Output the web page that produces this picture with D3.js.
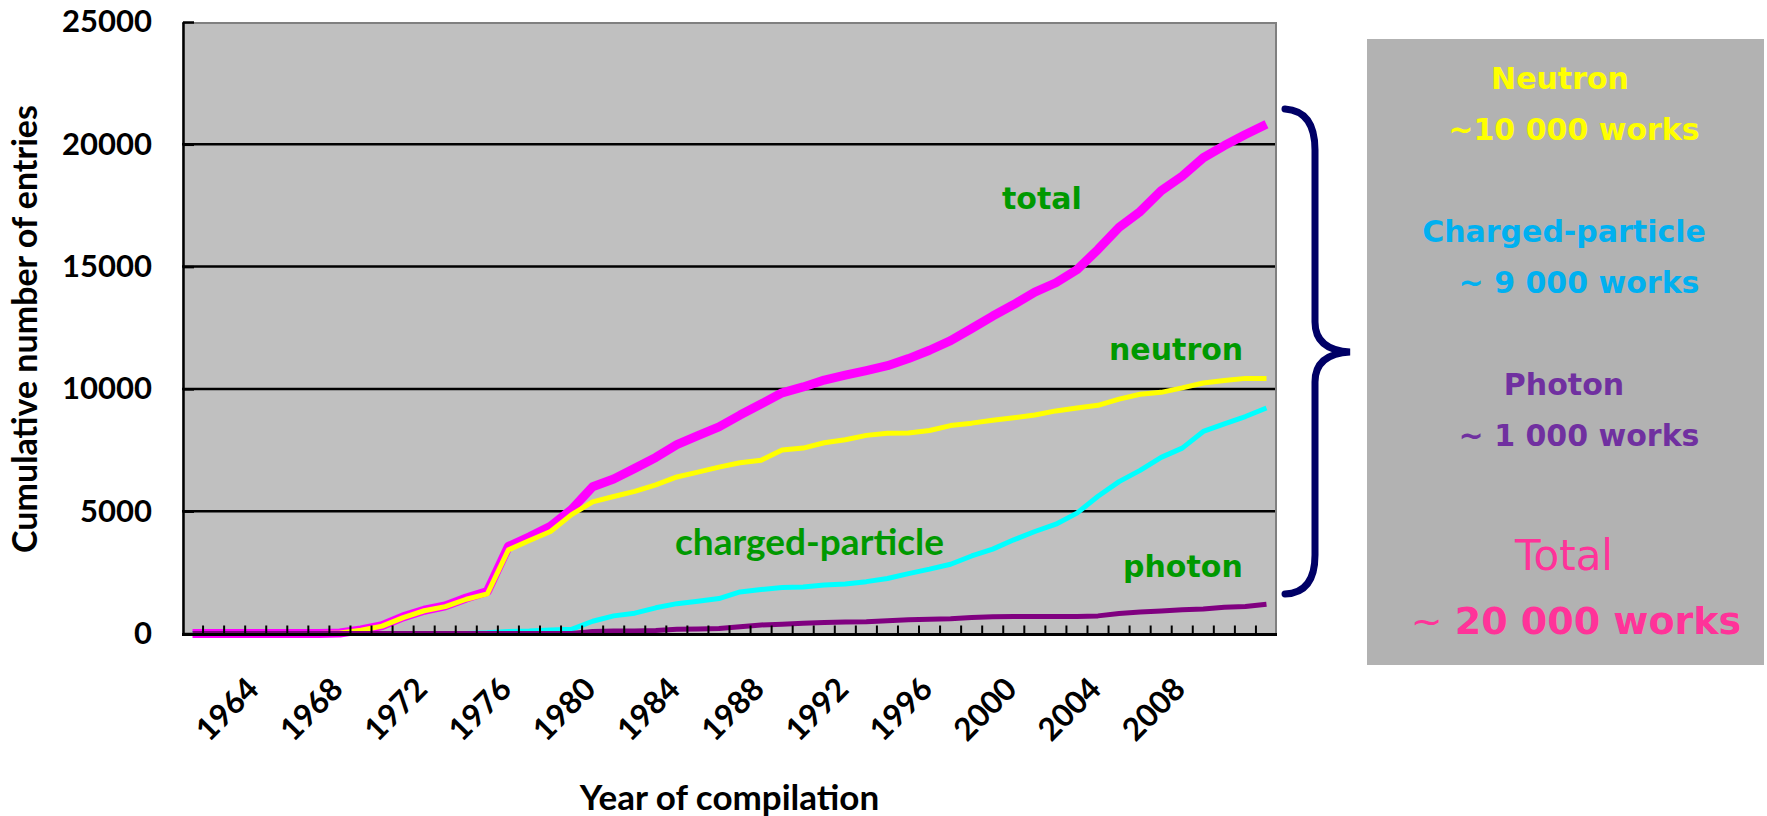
<!DOCTYPE html>
<html lang=en>
<head>
<meta charset='utf-8'>
<script src="https://d3js.org/d3.v7.min.js"></script>
<style>
    body { margin: 0; background: #fff; }
    svg { display: block; }
</style>
</head>
<body>
<div id="chart"></div>
<script>
// one category per year of compilation
var years = [1961, 1962, 1963, 1964, 1965, 1966, 1967, 1968, 1969, 1970,
             1971, 1972, 1973, 1974, 1975, 1976, 1977, 1978, 1979, 1980,
             1981, 1982, 1983, 1984, 1985, 1986, 1987, 1988, 1989, 1990,
             1991, 1992, 1993, 1994, 1995, 1996, 1997, 1998, 1999, 2000,
             2001, 2002, 2003, 2004, 2005, 2006, 2007, 2008, 2009, 2010,
             2011, 2012];

// cumulative number of entries
var totalEntries = [0, 0, 0, 0, 0, 0, 0, 20, 150, 320, 680, 950, 1130, 1450, 1720,
    3560, 3950, 4380, 5070, 6000, 6320, 6750, 7200, 7720, 8090, 8450, 8930, 9380,
    9840, 10080, 10360, 10560, 10750, 10950, 11240, 11580, 11970, 12470, 12980,
    13450, 13960, 14340, 14870, 15700, 16600, 17250, 18100, 18700, 19450, 19950, 20400, 20820];
var neutronEntries = [0, 0, 0, 0, 0, 0, 0, 20, 130, 300, 650, 930, 1100, 1400, 1620,
    3420, 3800, 4170, 4860, 5380, 5600, 5810, 6080, 6400, 6600, 6800, 6980, 7080,
    7500, 7580, 7800, 7920, 8100, 8190, 8200, 8300, 8500, 8600, 8720,
    8820, 8930, 9100, 9220, 9330, 9580, 9780, 9860, 10040, 10240, 10340, 10430, 10430];
var chargedEntries = [0, 0, 0, 0, 0, 0, 0, 0, 0, 0, 0, 0, 0, 0, 30,
    80, 100, 140, 170, 500, 720, 830, 1050, 1220, 1320, 1430, 1700, 1800,
    1880, 1900, 1980, 2020, 2120, 2250, 2450, 2630, 2830, 3170, 3450,
    3830, 4170, 4470, 4920, 5610, 6210, 6670, 7200, 7580, 8260, 8570, 8870, 9220];
var photonEntries = [0, 0, 0, 0, 0, 0, 0, 0, 0, 0, 0, 0, 0, 0, 0,
    0, 0, 0, 0, 80, 100, 100, 120, 170, 180, 200, 280, 350,
    380, 420, 450, 470, 480, 520, 560, 580, 600, 650, 680,
    700, 700, 700, 700, 720, 820, 880, 920, 970, 1000, 1070, 1100, 1200];

var yTicks = [0, 5000, 10000, 15000, 20000, 25000];
var xTickLabels = ["1964", "1968", "1972", "1976", "1980", "1984", "1988",
                   "1992", "1996", "2000", "2004", "2008"];

// plot area in page pixels
var plot = {left: 182, right: 1277, top: 22, bottom: 633.5};

var svg = d3.select("#chart")
    .append("svg")
        .attr("width", 1767)
        .attr("height", 816);

// scales
var x = d3.scalePoint()
    .domain(years)
    .range([plot.left, plot.right])
    .padding(0.5);
var band = d3.scaleBand()
    .domain(years)
    .range([plot.left, plot.right]);
var y = d3.scaleLinear()
    .domain([0, 25000])
    .range([plot.bottom, plot.top]);

// grey plot background
svg.append("rect")
    .attr("x", plot.left)
    .attr("y", plot.top)
    .attr("width", plot.right - plot.left)
    .attr("height", plot.bottom - plot.top)
    .attr("fill", "#c0c0c0");

// horizontal grid lines
svg.selectAll(".grid")
    .data(yTicks.filter(function(d) { return d > 0 && d < 25000; }))
    .enter()
    .append("line")
        .attr("class", "grid")
        .attr("x1", plot.left)
        .attr("x2", plot.right)
        .attr("y1", function(d) { return y(d); })
        .attr("y2", function(d) { return y(d); })
        .attr("stroke", "#000")
        .attr("stroke-width", 2.5);

// top and right frame
svg.append("path")
    .attr("d", "M" + plot.left + "," + (plot.top + 1) + "H" + (plot.right - 1) + "V" + plot.bottom)
    .attr("fill", "none")
    .attr("stroke", "#808080")
    .attr("stroke-width", 2);

// y axis
var yAxis = svg.append("g")
    .attr("transform", "translate(" + (plot.left + 1) + ",0)")
    .call(d3.axisLeft(y)
        .tickValues(yTicks)
        .tickFormat(d3.format("d"))
        .tickSizeInner(-11)
        .tickSizeOuter(0)
        .tickPadding(31));
yAxis.select(".domain").attr("stroke", "#000").attr("stroke-width", 2.5);
yAxis.selectAll(".tick line").attr("stroke", "#000").attr("stroke-width", 2.5);
yAxis.selectAll(".tick text")
    .style("font-family", "Lato, sans-serif")
    .style("font-weight", "bold")
    .style("font-size", "31px")
    .attr("fill", "#000");

// lines, drawn total first so the others sit on top
var series = [
    {name: "total", values: totalEntries, color: "#ff00ff", width: 9},
    {name: "neutron", values: neutronEntries, color: "#ffff00", width: 5},
    {name: "charged-particle", values: chargedEntries, color: "#00ffff", width: 5},
    {name: "photon", values: photonEntries, color: "#800080", width: 5}
];

var line = d3.line()
    .x(function(d, i) { return x(years[i]); })
    .y(function(d) { return y(d); });

svg.selectAll(".series")
    .data(series)
    .enter()
    .append("path")
        .attr("class", "series")
        .attr("d", function(d) { return line(d.values); })
        .attr("fill", "none")
        .attr("stroke", function(d) { return d.color; })
        .attr("stroke-width", function(d) { return d.width; })
        .attr("stroke-linejoin", "round");

// x axis line with small inward ticks between categories
svg.append("line")
    .attr("x1", plot.left)
    .attr("x2", plot.right)
    .attr("y1", plot.bottom + 1)
    .attr("y2", plot.bottom + 1)
    .attr("stroke", "#000")
    .attr("stroke-width", 3);

svg.selectAll(".xtick")
    .data(years.slice(1))
    .enter()
    .append("line")
        .attr("class", "xtick")
        .attr("x1", function(d) { return band(d); })
        .attr("x2", function(d) { return band(d); })
        .attr("y1", plot.bottom + 1)
        .attr("y2", plot.bottom - 8)
        .attr("stroke", "#000")
        .attr("stroke-width", 2);

// rotated year labels
svg.selectAll(".xlabel")
    .data(xTickLabels)
    .enter()
    .append("text")
        .attr("class", "xlabel")
        .attr("transform", function(d) { return "translate(" + (x(+d) + 5) + ",691) rotate(-45)"; })
        .attr("text-anchor", "end")
        .style("font-family", "Lato, sans-serif")
        .style("font-weight", "bold")
        .style("font-size", "31.5px")
        .text(function(d) { return d; });

// axis titles
svg.append("text")
    .attr("transform", "translate(37,329) rotate(-90)")
    .attr("text-anchor", "middle")
    .style("font-family", "Lato, sans-serif")
    .style("font-weight", "bold")
    .style("font-size", "34px")
    .text("Cumulative number of entries");

svg.append("text")
    .attr("x", (plot.left + plot.right) / 2)
    .attr("y", 810)
    .attr("text-anchor", "middle")
    .style("font-family", "Lato, sans-serif")
    .style("font-weight", "bold")
    .style("font-size", "35px")
    .text("Year of compilation");

// green series labels inside the plot
var seriesLabels = [
    {text: "total", x: 1002, y: 209, font: "DejaVu Sans", size: 30},
    {text: "neutron", x: 1109, y: 360, font: "DejaVu Sans", size: 30},
    {text: "charged-particle", x: 675, y: 555, font: "Lato", size: 37},
    {text: "photon", x: 1123, y: 577, font: "DejaVu Sans", size: 30}
];
svg.selectAll(".slabel")
    .data(seriesLabels)
    .enter()
    .append("text")
        .attr("class", "slabel")
        .attr("x", function(d) { return d.x; })
        .attr("y", function(d) { return d.y; })
        .attr("fill", "#009900")
        .style("font-family", function(d) { return d.font + ", sans-serif"; })
        .style("font-weight", "bold")
        .style("font-size", function(d) { return d.size + "px"; })
        .text(function(d) { return d.text; });

// curly brace
svg.append("path")
    .attr("d", "M1285,109 Q1315,111 1315,150 L1315,322 Q1315,350 1350,352 Q1315,354 1315,382 L1315,555 Q1315,593 1285,594")
    .attr("fill", "none")
    .attr("stroke", "#000066")
    .attr("stroke-width", 7)
    .attr("stroke-linecap", "round");

// summary box
svg.append("rect")
    .attr("x", 1367)
    .attr("y", 39)
    .attr("width", 397)
    .attr("height", 626)
    .attr("fill", "#b2b2b2");

var boxLines = [
    {text: "Neutron", x: 1560, y: 89, color: "#ffff00", size: 30, weight: "bold"},
    {text: "~10 000 works", x: 1574, y: 140, color: "#ffff00", size: 30, weight: "bold"},
    {text: "Charged-particle", x: 1564, y: 242, color: "#00b0f0", size: 30, weight: "bold"},
    {text: "~ 9 000 works", x: 1579, y: 293, color: "#00b0f0", size: 30, weight: "bold"},
    {text: "Photon", x: 1564, y: 395, color: "#7030a0", size: 30, weight: "bold"},
    {text: "~ 1 000 works", x: 1579, y: 446, color: "#7030a0", size: 30, weight: "bold"},
    {text: "Total", x: 1564, y: 570, color: "#ff3399", size: 42, weight: "normal"}
];
svg.selectAll(".boxline")
    .data(boxLines)
    .enter()
    .append("text")
        .attr("class", "boxline")
        .attr("x", function(d) { return d.x; })
        .attr("y", function(d) { return d.y; })
        .attr("text-anchor", "middle")
        .attr("fill", function(d) { return d.color; })
        .style("font-family", "DejaVu Sans, sans-serif")
        .style("font-weight", function(d) { return d.weight; })
        .style("font-size", function(d) { return d.size + "px"; })
        .text(function(d) { return d.text; });

var grand = svg.append("text")
    .attr("x", 1576)
    .attr("y", 634)
    .attr("text-anchor", "middle")
    .attr("fill", "#ff3399")
    .style("font-family", "DejaVu Sans, sans-serif")
    .style("font-size", "38px");
grand.append("tspan").text("~ ");
grand.append("tspan").style("font-weight", "bold").text("20 000 works");
</script>
</body>
</html>
